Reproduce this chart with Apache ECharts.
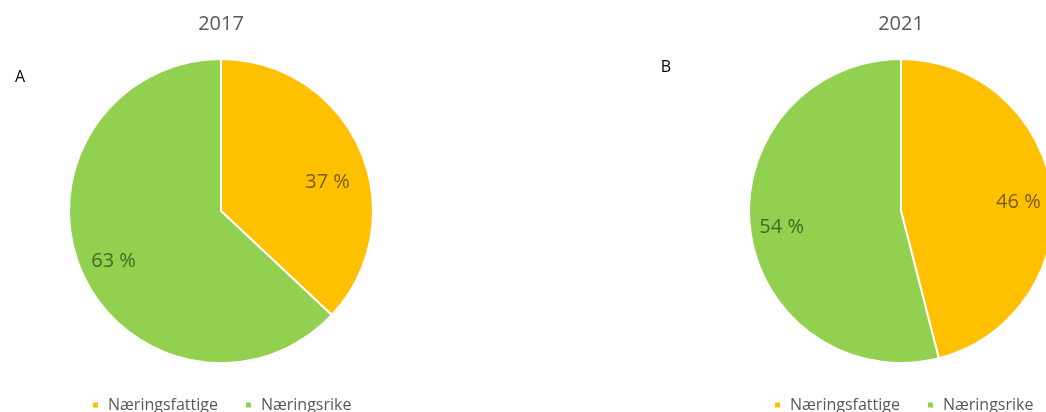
<!DOCTYPE html>
<html>
<head>
<meta charset="utf-8">
<script src="https://cdn.jsdelivr.net/npm/echarts@6/dist/echarts.min.js"></script>
<style>
html,body{margin:0;padding:0;background:#fff;}
#c{width:1046px;height:412px;}
</style>
</head>
<body>
<div id="c"></div>
<script>
// ---- data ----
const categories = ['Næringsfattige', 'Næringsrike'];
const years = ['2017', '2021'];
const panelLetters = ['A', 'B'];
const values2017 = [37, 63];
const values2021 = [46, 54];

// ---- styling / layout ----
const FONT = 'Open Sans';
const colors = ['#FFC000', '#92D050'];
const labelColors = ['#7A5C00', '#3E6B1F'];
const centers = [[221, 211], [901, 211]];
const R = 152;
// label nudges from default inner position (Excel best-fit placement)
const labelNudges = [
  [[34, 3], [-35, 19]],
  [[39, 1], [-41, 6]]
];

function makeSeries(idx, values) {
  return {
    type: 'pie',
    name: years[idx],
    center: centers[idx],
    radius: [0, R],
    startAngle: 90,
    clockwise: true,
    silent: true,
    itemStyle: { borderColor: '#fff', borderWidth: 2 },
    label: {
      show: true,
      position: 'inside',
      fontFamily: FONT,
      fontSize: 20,
      formatter: function (p) { return p.value + ' %'; }
    },
    labelLine: { show: false },
    labelLayout: function (p) {
      const n = labelNudges[idx][p.dataIndex];
      return { dx: n[0], dy: n[1] };
    },
    data: values.map(function (v, i) {
      return {
        name: categories[i],
        value: v,
        itemStyle: { color: colors[i] },
        label: { color: labelColors[i] }
      };
    })
  };
}

const legendBase = {
  data: categories, top: 392, icon: 'rect',
  itemWidth: 7, itemHeight: 7, itemGap: 26,
  textStyle: { fontFamily: FONT, fontSize: 16, color: '#595959', padding: [0, 0, 0, 4] },
  selectedMode: false
};

const chart = echarts.init(document.getElementById('c'));
chart.setOption({
  animation: false,
  backgroundColor: '#fff',
  legend: [
    Object.assign({}, legendBase, { left: 86 }),
    Object.assign({}, legendBase, { left: 768 })
  ],
  graphic: [
    { type: 'text', x: 221, y: 24, style: { text: years[0], align: 'center', verticalAlign: 'middle', font: '20px "Open Sans"', fill: '#595959' } },
    { type: 'text', x: 901, y: 24, style: { text: years[1], align: 'center', verticalAlign: 'middle', font: '20px "Open Sans"', fill: '#595959' } },
    { type: 'text', x: 20, y: 77, style: { text: panelLetters[0], align: 'center', verticalAlign: 'middle', font: '16px "Open Sans"', fill: '#000' } },
    { type: 'text', x: 666, y: 67, style: { text: panelLetters[1], align: 'center', verticalAlign: 'middle', font: '16px "Open Sans"', fill: '#000' } }
  ],
  series: [makeSeries(0, values2017), makeSeries(1, values2021)]
});
</script>
</body>
</html>
